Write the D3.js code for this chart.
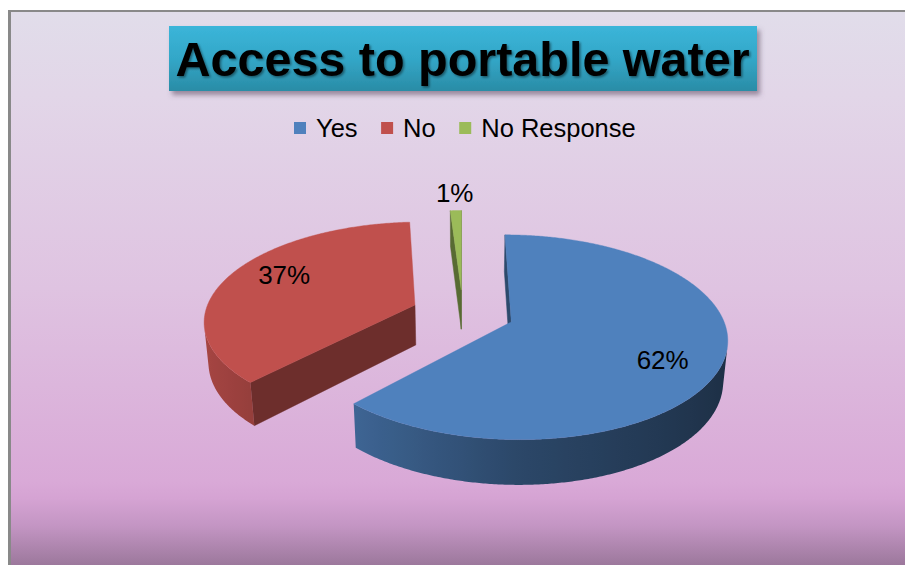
<!DOCTYPE html>
<html><head><meta charset="utf-8">
<script src="https://cdn.jsdelivr.net/npm/d3@7"></script>
<style>html,body{margin:0;padding:0;background:#fff;} svg{display:block}</style>
</head><body>
<svg id="chart" width="905" height="565"></svg>
<script>
// ---------- data ----------
const titleText = "Access to portable water";
const categories = ["Yes", "No", "No Response"];
const values = [62, 37, 1];
const labelTexts = ["62%", "37%", "1%"];
const colors = ["#4f81bd", "#c0504d", "#9bbb59"];

// ---------- layout ----------
const W = 905, H = 565;
const FONT = "'Liberation Sans', Arial, sans-serif";
const svg = d3.select("#chart");
const defs = svg.append("defs");

const bg = defs.append("linearGradient").attr("id", "bg").attr("x1", 0).attr("y1", 0).attr("x2", 0).attr("y2", 1);
[[0, "#e1ddea"], [0.15, "#e2d6e8"], [0.5, "#dfc3e1"], [0.85, "#d9a9d7"], [0.88, "#d5a3d3"], [0.93, "#c395c3"], [1, "#9c789c"]]
  .forEach(([o, c]) => bg.append("stop").attr("offset", o).attr("stop-color", c));

const tg = defs.append("linearGradient").attr("id", "tg").attr("x1", 0).attr("y1", 0).attr("x2", 0).attr("y2", 1);
[[0, "#3bb5d9"], [0.5, "#33a7c8"], [1, "#2a8ca6"]]
  .forEach(([o, c]) => tg.append("stop").attr("offset", o).attr("stop-color", c));

const fs = defs.append("filter").attr("id", "boxShadow").attr("x", "-5%").attr("y", "-20%").attr("width", "115%").attr("height", "160%");
fs.append("feDropShadow").attr("dx", 3).attr("dy", 4).attr("stdDeviation", 2.5).attr("flood-color", "#5a4a60").attr("flood-opacity", 0.55);
const ft = defs.append("filter").attr("id", "textShadow").attr("x", "-5%").attr("y", "-20%").attr("width", "115%").attr("height", "160%");
ft.append("feDropShadow").attr("dx", 1.5).attr("dy", 1.5).attr("stdDeviation", 1).attr("flood-color", "#000").attr("flood-opacity", 0.45);

svg.append("rect").attr("x", 11).attr("y", 12).attr("width", W - 11).attr("height", H - 12).attr("fill", "url(#bg)");
svg.append("rect").attr("x", 8).attr("y", 10).attr("width", 3).attr("height", H - 10).attr("fill", "#898989");
svg.append("rect").attr("x", 8).attr("y", 10).attr("width", W - 8).attr("height", 2).attr("fill", "#898989");

// title
svg.append("rect").attr("x", 169).attr("y", 26).attr("width", 588).attr("height", 65)
  .attr("fill", "url(#tg)").attr("filter", "url(#boxShadow)");
svg.append("text").attr("x", 462.5).attr("y", 75.5).attr("text-anchor", "middle")
  .attr("font-family", FONT).attr("font-weight", "bold").attr("font-size", 48.5)
  .attr("fill", "#000").attr("filter", "url(#textShadow)").text(titleText);

// legend
const legend = svg.append("g").attr("font-family", FONT).attr("font-size", 25.5);
let lx = 294;
categories.forEach((c, i) => {
  legend.append("rect").attr("x", lx).attr("y", 122).attr("width", 12).attr("height", 12).attr("fill", colors[i]);
  const t = legend.append("text").attr("x", lx + 22).attr("y", 137).attr("fill", "#000").text(c);
  lx += 22 + t.node().getComputedTextLength() + 23.5;
});

// ---------- 3D pie projection ----------
const P = { X0: 462.8, Y0: 313, s: 210, phi: Math.asin(0.464), D: 6, T: 0.22, e: 0.245 };
const cph = Math.cos(P.phi), sph = Math.sin(P.phi);
const cam = [0, P.D * sph, P.D * cph];
function proj(x, h, z) {
  const u = x, v = h * cph - z * sph, w = h * sph + z * cph;
  const f = P.D / (P.D - w);
  return [P.X0 + P.s * u * f, P.Y0 - P.s * v * f];
}
function world(a, rho, h, off) { return [off[0] + rho * Math.sin(a), h, off[1] - rho * Math.cos(a)]; }
function pt(a, rho, h, off) { const p = world(a, rho, h, off); return proj(p[0], p[1], p[2]); }
function visible(nx, nz, p) { return nx * (cam[0] - p[0]) + nz * (cam[2] - p[2]) > 0; }
const sideScale = d3.scaleLinear().domain([-1, -0.68, 0, 1]).range([0.88, 0.78, 0.55, 0.36]);
function shade(c, k) { const r = d3.rgb(c); return d3.rgb(r.r * k, r.g * k, r.b * k).formatHex(); }
const line = d3.line();

const arcs = d3.pie().sort(null).startAngle(0).endAngle(2 * Math.PI)(values);
const slices = arcs.map((a, i) => {
  const m = (a.startAngle + a.endAngle) / 2;
  const off = [P.e * Math.sin(m), -P.e * Math.cos(m)];
  return { i, a0: a.startAngle, a1: a.endAngle, m, off, depth: off[1] };
});
slices.sort((a, b) => a.depth - b.depth);

const pieG = svg.append("g");
slices.forEach(sl => {
  const g = pieG.append("g");
  const base = colors[sl.i];
  const { a0, a1, off } = sl;
  const Hb = -P.T;
  // cut faces
  [[a0, a0 - Math.PI / 2], [a1, a1 + Math.PI / 2]].forEach(([ang, na]) => {
    const nx = Math.sin(na), nz = -Math.cos(na);
    const mid = world(ang, 0.5, -P.T / 2, off);
    if (!visible(nx, nz, mid)) return;
    const poly = [proj(off[0], 0, off[1]), pt(ang, 1, 0, off), pt(ang, 1, Hb, off), proj(off[0], Hb, off[1])];
    g.append("path").attr("d", line(poly) + "Z").attr("fill", shade(base, 0.57))
      .attr("stroke", shade(base, 0.57)).attr("stroke-width", 0.5).attr("stroke-linejoin", "round");
  });
  // outer side: contiguous visible runs, each filled with a horizontal gradient
  const step = Math.PI / 360;
  const n = Math.max(2, Math.ceil((a1 - a0) / step));
  const runs = []; let cur = null;
  for (let k = 0; k <= n; k++) {
    const t = a0 + (a1 - a0) * k / n;
    const vis = visible(Math.sin(t), -Math.cos(t), world(t, 1, -P.T / 2, off));
    if (vis) { if (!cur) { cur = []; runs.push(cur); } cur.push(t); } else cur = null;
  }
  runs.forEach((run, ri) => {
    if (run.length < 2) return;
    const topPts = run.map(t => pt(t, 1, 0, off));
    const botPts = run.map(t => pt(t, 1, Hb, off)).reverse();
    const xs = topPts.map(p => p[0]);
    const xmin = d3.min(xs), xmax = d3.max(xs);
    const gid = `side${sl.i}_${ri}`;
    const lg = defs.append("linearGradient").attr("id", gid).attr("gradientUnits", "userSpaceOnUse")
      .attr("x1", xmin).attr("x2", xmax).attr("y1", 0).attr("y2", 0);
    const stops = run.map((t, k) => [(xs[k] - xmin) / Math.max(1e-6, xmax - xmin), shade(base, sideScale(Math.sin(t)))])
      .sort((a, b) => a[0] - b[0]);
    stops.filter((d, k) => k % 6 === 0 || k === stops.length - 1)
      .forEach(([o, c]) => lg.append("stop").attr("offset", o).attr("stop-color", c));
    g.append("path").attr("d", line(topPts.concat(botPts)) + "Z").attr("fill", `url(#${gid})`);
  });
  // top face
  const top = [proj(off[0], 0, off[1])];
  for (let k = 0; k <= n; k++) top.push(pt(a0 + (a1 - a0) * k / n, 1, 0, off));
  g.append("path").attr("d", line(top) + "Z").attr("fill", base).attr("stroke", base).attr("stroke-width", 0.4);
});

// data labels
const labelShift = 6.5 * Math.PI / 180, labelR = 0.75, outsideR = 1.26;
const lab = svg.append("g").attr("font-family", FONT).attr("font-size", 26).attr("text-anchor", "middle");
slices.forEach(sl => {
  const small = values[sl.i] < 5;
  const p = small ? pt(sl.m, outsideR, 0, sl.off) : pt(sl.m + labelShift, labelR, 0, sl.off);
  lab.append("text").attr("x", p[0]).attr("y", p[1]).attr("dy", "0.36em").attr("fill", "#000").text(labelTexts[sl.i]);
});
</script>
</body></html>
